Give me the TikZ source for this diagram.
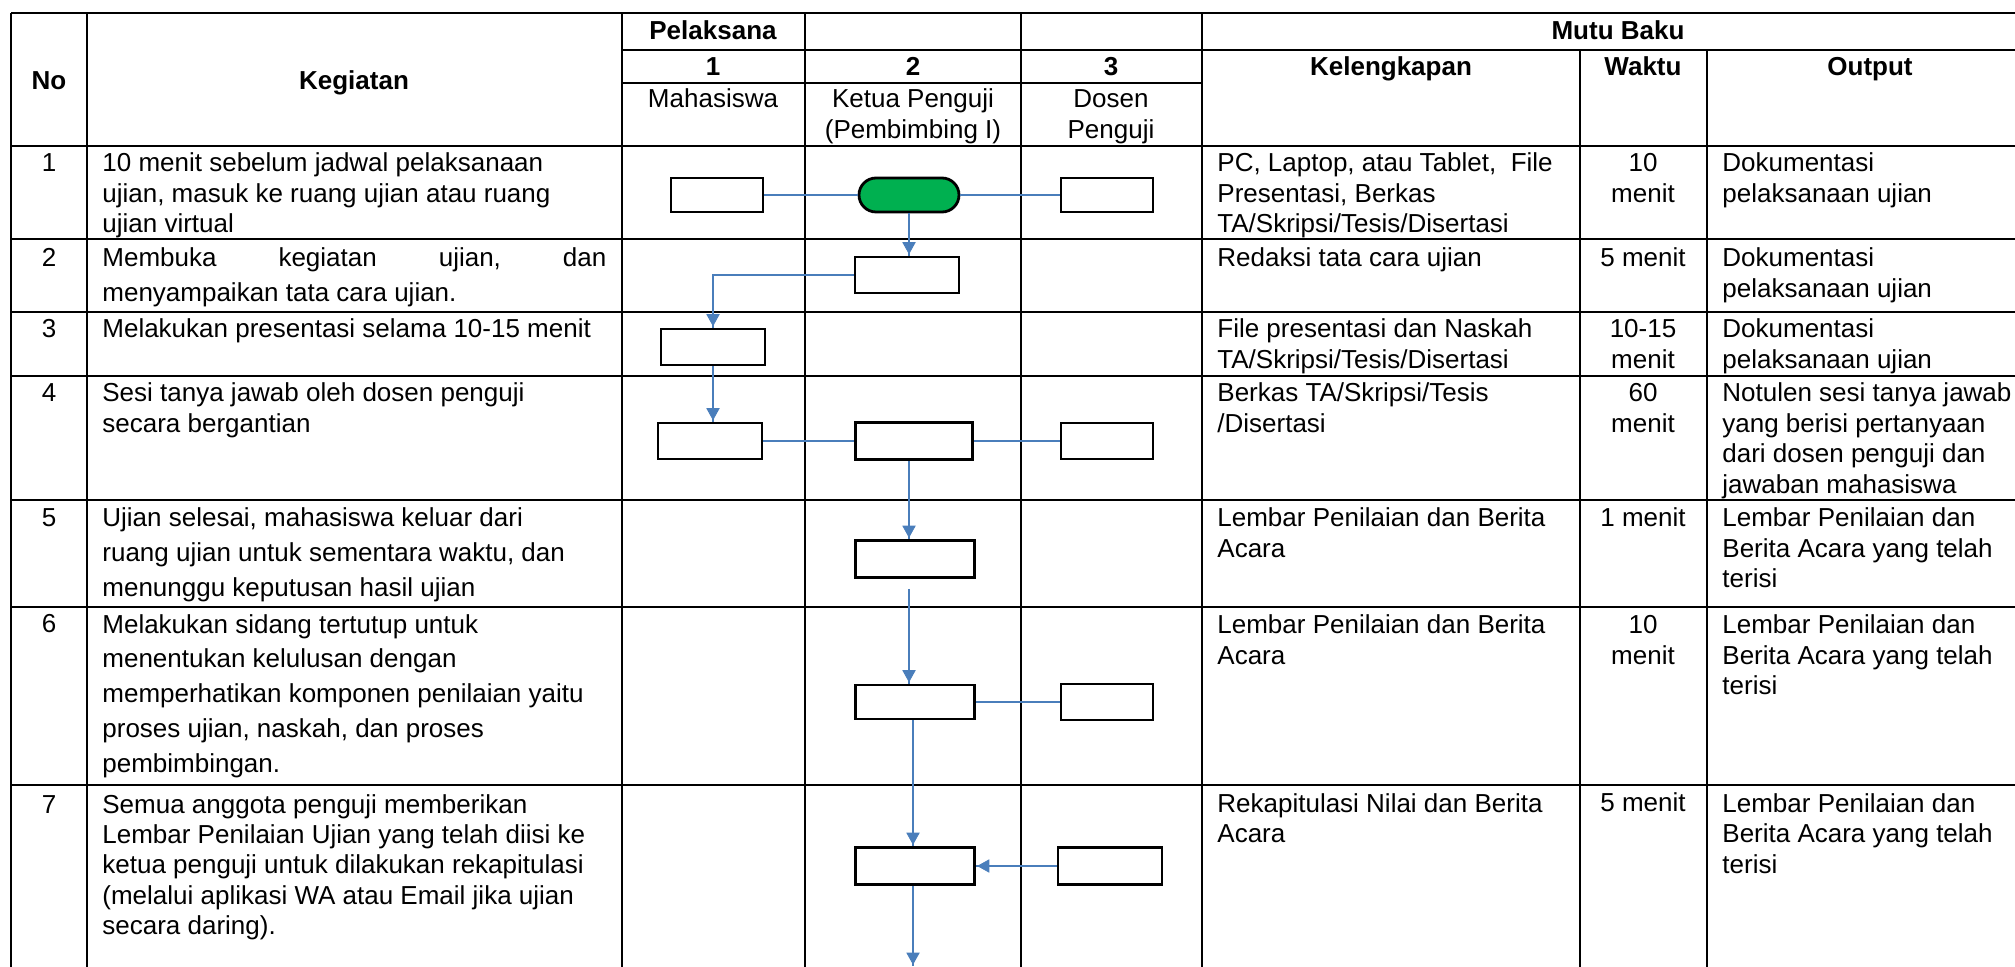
\documentclass[tikz,border=0pt]{standalone}
\usepackage{fontspec}
\setmainfont{Liberation Sans}
\usetikzlibrary{arrows.meta, decorations.markings}
\definecolor{lineBlue}{HTML}{4A7EBB}
\definecolor{startFill}{HTML}{00B050}
\tikzset{
    Arrow/.style = {
        line width=1pt, color=lineBlue,
        decoration={
            markings,
            mark=at position 1 with {
                \arrow[lineBlue]{Triangle[width=7.5pt, length=7pt]}
                }
            },
        preaction = {decorate}
    },
    Link/.style = {line width=1pt, color=lineBlue},
    tableLine/.style = {line width=1.2pt, black},
    stepbox/.style = {draw, line width=1.4pt, fill=white, inner sep=0pt,
        minimum width=46pt, minimum height=17pt},
    midbox/.style = {stepbox, minimum width=52pt, minimum height=18pt},
    widebox/.style = {stepbox, minimum width=59.5pt, minimum height=18.5pt},
    startbox/.style = {draw, line width=1.4pt, fill=startFill, inner sep=0pt,
        rounded corners=8.5pt, minimum width=50pt, minimum height=17pt},
    % multi-line cells sit on the baseline of their last line
    cell/.style = {anchor=base west, align=left, inner sep=0pt,
        font=\fontsize{13}{15.25}\selectfont},
    wide/.style = {font=\fontsize{13}{17.5}\selectfont},
    mid/.style = {cell, anchor=base, align=center},
    head/.style = {anchor=base, align=center, inner sep=0pt,
        font=\fontsize{13}{15.25}\selectfont\bfseries},
    sub/.style = {head, font=\fontsize{13}{15.25}\selectfont}
}

\begin{document}
\begin{tikzpicture}[x=0.5pt, y=-0.5pt]
    \path[use as bounding box] (0,0) rectangle (2015,967);
    \clip (0,0) rectangle (2015,967);
    % table rules
    \draw[tableLine] (11,13) -- (2034,13);
    \draw[tableLine] (622,50) -- (2034,50);
    \draw[tableLine] (622,83) -- (1202,83);
    \draw[tableLine] (11,146) -- (2034,146);
    \draw[tableLine] (11,239) -- (2034,239);
    \draw[tableLine] (11,312) -- (2034,312);
    \draw[tableLine] (11,376) -- (2034,376);
    \draw[tableLine] (11,500) -- (2034,500);
    \draw[tableLine] (11,607) -- (2034,607);
    \draw[tableLine] (11,785) -- (2034,785);
    \draw[tableLine] (11,13) -- (11,990);
    \draw[tableLine] (87,13) -- (87,990);
    \draw[tableLine] (622,13) -- (622,990);
    \draw[tableLine] (805,13) -- (805,990);
    \draw[tableLine] (1021,13) -- (1021,990);
    \draw[tableLine] (1202,13) -- (1202,990);
    \draw[tableLine] (1580,50) -- (1580,990);
    \draw[tableLine] (1707,50) -- (1707,990);

    % header
    \node[head] (hNo) at (49,90) {No};
    \node[head] (hKeg) at (354,90) {Kegiatan};
    \node[head] (hPel) at (713,40) {Pelaksana};
    \node[head] (hMutu) at (1618,40) {Mutu Baku};
    \node[head] (hSatu) at (713,76) {1};
    \node[head] (hDua) at (913,76) {2};
    \node[head] (hTiga) at (1111,76) {3};
    \node[head] (hLengkap) at (1391,76) {Kelengkapan};
    \node[head] (hWaktu) at (1643,76) {Waktu};
    \node[head] (hOut) at (1870,76) {Output};
    \node[sub] (hMhs) at (713,108) {Mahasiswa};
    \node[sub] (hKetua) at (913,138.5) {Ketua Penguji\\(Pembimbing I)};
    \node[sub] (hDosen) at (1111,138.5) {Dosen\\Penguji};

    % No
    \node[mid] (no1) at (49,172) {1};
    \node[mid] (no2) at (49,267) {2};
    \node[mid] (no3) at (49,338) {3};
    \node[mid] (no4) at (49,402) {4};
    \node[mid] (no5) at (49,527) {5};
    \node[mid] (no6) at (49,633) {6};
    \node[mid] (no7) at (49,813) {7};

    % Kegiatan
    \node[cell] (keg1) at (102,233) {10 menit sebelum jadwal pelaksanaan\\ujian, masuk ke ruang ujian atau ruang\\ujian virtual};
    \node[cell, wide] (keg2) at (102,302) {\hbox to 252pt{Membuka\hfill kegiatan\hfill ujian,\hfill dan}\\menyampaikan tata cara ujian.};
    \node[cell] (keg3) at (102,338) {Melakukan presentasi selama 10-15 menit};
    \node[cell] (keg4) at (102,432.5) {Sesi tanya jawab oleh dosen penguji\\secara bergantian};
    \node[cell, wide] (keg5) at (102,597) {Ujian selesai, mahasiswa keluar dari\\ruang ujian untuk sementara waktu, dan\\menunggu keputusan hasil ujian};
    \node[cell, wide] (keg6) at (102,773) {Melakukan sidang tertutup untuk\\menentukan kelulusan dengan\\memperhatikan komponen penilaian yaitu\\proses ujian, naskah, dan proses\\pembimbingan.};
    \node[cell] (keg7) at (102,935) {Semua anggota penguji memberikan\\Lembar Penilaian Ujian yang telah diisi ke\\ketua penguji untuk dilakukan rekapitulasi\\(melalui aplikasi WA atau Email jika ujian\\secara daring).};

    % Kelengkapan
    \node[cell] (lengkap1) at (1217,233) {PC, Laptop, atau Tablet, \ File\\Presentasi, Berkas\\TA/Skripsi/Tesis/Disertasi};
    \node[cell] (lengkap2) at (1217,267) {Redaksi tata cara ujian};
    \node[cell] (lengkap3) at (1217,368.5) {File presentasi dan Naskah\\TA/Skripsi/Tesis/Disertasi};
    \node[cell] (lengkap4) at (1217,432.5) {Berkas TA/Skripsi/Tesis\\/Disertasi};
    \node[cell] (lengkap5) at (1217,557.5) {Lembar Penilaian dan Berita\\Acara};
    \node[cell] (lengkap6) at (1217,664.5) {Lembar Penilaian dan Berita\\Acara};
    \node[cell] (lengkap7) at (1217,842.5) {Rekapitulasi Nilai dan Berita\\Acara};

    % Waktu
    \node[mid] (waktu1) at (1643,202.5) {10\\menit};
    \node[mid] (waktu2) at (1643,267) {5 menit};
    \node[mid] (waktu3) at (1643,368.5) {10-15\\menit};
    \node[mid] (waktu4) at (1643,432.5) {60\\menit};
    \node[mid] (waktu5) at (1643,527) {1 menit};
    \node[mid] (waktu6) at (1643,664.5) {10\\menit};
    \node[mid] (waktu7) at (1643,812) {5 menit};

    % Output
    \node[cell] (out1) at (1722,202.5) {Dokumentasi\\pelaksanaan ujian};
    \node[cell] (out2) at (1722,297.5) {Dokumentasi\\pelaksanaan ujian};
    \node[cell] (out3) at (1722,368.5) {Dokumentasi\\pelaksanaan ujian};
    \node[cell] (out4) at (1722,493.5) {Notulen sesi tanya jawab\\yang berisi pertanyaan\\dari dosen penguji dan\\jawaban mahasiswa};
    \node[cell] (out5) at (1722,588) {Lembar Penilaian dan\\Berita Acara yang telah\\terisi};
    \node[cell] (out6) at (1722,695) {Lembar Penilaian dan\\Berita Acara yang telah\\terisi};
    \node[cell] (out7) at (1722,873) {Lembar Penilaian dan\\Berita Acara yang telah\\terisi};

    % flow
    \node[stepbox] (mhs1) at (717,195) {};
    \node[startbox] (start) at (909,195) {};
    \node[stepbox] (dsn1) at (1107,195) {};
    \node[midbox] (ketua2) at (907,275) {};
    \node[midbox] (mhs3) at (713,347) {};
    \node[midbox] (mhs4) at (710,441) {};
    \node[widebox, minimum width=58.5pt] (ketua4) at (914,441) {};
    \node[stepbox, minimum height=18pt] (dsn4) at (1107,441) {};
    \node[widebox] (ketua5) at (915,559) {};
    \node[widebox, minimum height=17pt] (ketua6) at (915,702) {};
    \node[stepbox, minimum height=18pt] (dsn6) at (1107,702) {};
    \node[widebox] (ketua7) at (915,866) {};
    \node[midbox, minimum height=18.5pt] (dsn7) at (1110,866) {};
    \coordinate (flowEnd) at (913,966);

    \draw [Link] (mhs1) -- (start);
    \draw [Link] (start) -- (dsn1);
    \draw [Arrow] (start.south) -- (start.south |- ketua2.north);
    \draw [Arrow] (ketua2.west) -| (mhs3.north);
    \draw [Arrow] (mhs3.south) -- (mhs3.south |- mhs4.north);
    \draw [Link] (mhs4) -- (ketua4);
    \draw [Link] (ketua4) -- (dsn4);
    \draw [Arrow] ([xshift=-2.5pt]ketua4.south) -- ([xshift=-2.5pt]ketua4.south |- ketua5.north);
    \draw [Arrow, shorten <=5pt] ([xshift=-3pt]ketua5.south) -- ([xshift=-3pt]ketua5.south |- ketua6.north);
    \draw [Link] (ketua6) -- (dsn6);
    \draw [Arrow] ([xshift=-1pt]ketua6.south) -- ([xshift=-1pt]ketua6.south |- ketua7.north);
    \draw [Arrow] (dsn7.west) -- (ketua7.east);
    \draw [Arrow] (ketua7.south -| flowEnd) -- (flowEnd);
\end{tikzpicture}
\end{document}
